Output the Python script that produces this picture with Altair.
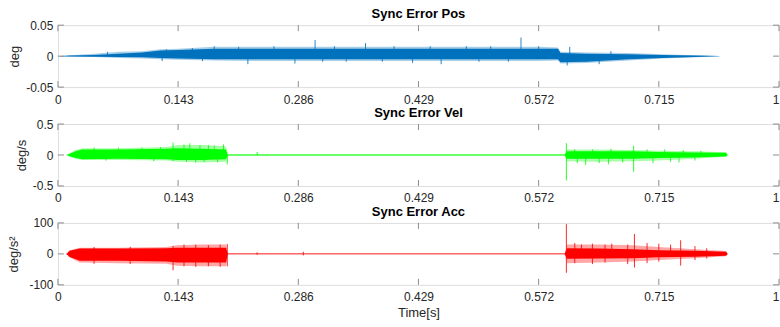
import altair as alt
import pandas as pd

# ---------------- axis ticks ----------------
x_ticks = [0, 0.143, 0.286, 0.429, 0.572, 0.715, 0.858]   # last tick is labelled "1"
pos_ticks = [-0.05, 0, 0.05]
vel_ticks = [-0.5, 0, 0.5]
acc_ticks = [-100, 0, 100]

# ---------------- Sync Error Pos (envelope) ----------------
pos_t = [0.000, 0.014, 0.043, 0.072, 0.100, 0.122, 0.143, 0.186, 0.229, 0.286, 0.358,
         0.429, 0.500, 0.572, 0.595, 0.598, 0.629, 0.679, 0.719, 0.759, 0.787]
pos_core_hi = [0, 0.001, 0.002, 0.004, 0.006, 0.009, 0.010, 0.012, 0.012, 0.012, 0.012,
               0.012, 0.012, 0.012, 0.012, 0.005, 0.004, 0.003, 0.002, 0.001, 0.0002]
pos_core_lo = [0, -0.0005, -0.001, -0.0015, -0.002, -0.003, -0.004, -0.005, -0.005, -0.005, -0.005,
               -0.005, -0.005, -0.005, -0.005, -0.010, -0.009, -0.005, -0.003, -0.0015, -0.0002]
pos_out_hi = [0, 0.0015, 0.004, 0.007, 0.008, 0.011, 0.012, 0.015, 0.015, 0.015, 0.015,
              0.015, 0.015, 0.015, 0.014, 0.007, 0.006, 0.005, 0.003, 0.0015, 0.0003]
pos_out_lo = [0, -0.001, -0.0015, -0.003, -0.004, -0.005, -0.006, -0.007, -0.008, -0.008, -0.008,
              -0.008, -0.008, -0.008, -0.007, -0.012, -0.011, -0.007, -0.004, -0.002, -0.0003]
pos_spk_t = [0.059, 0.129, 0.160, 0.186, 0.215, 0.257, 0.306, 0.329, 0.366, 0.400, 0.443,
             0.486, 0.515, 0.551, 0.572, 0.609, 0.658,
             0.124, 0.172, 0.226, 0.282, 0.315, 0.343, 0.386, 0.422, 0.456, 0.501, 0.536,
             0.606, 0.644]
pos_spk_hi = [0.007, 0.011, 0.013, 0.016, 0.015, 0.016, 0.026, 0.016, 0.021, 0.016, 0.016,
              0.016, 0.016, 0.030, 0.016, 0.015, 0.008,
              0, 0, 0, 0, 0, 0, 0, 0, 0, 0, 0, 0, 0]
pos_spk_lo = [0, 0, 0, 0, 0, 0, 0, 0, 0, 0, 0, 0, 0, 0, 0, 0, 0,
              -0.008, -0.008, -0.013, -0.012, -0.009, -0.009, -0.009, -0.011, -0.013, -0.009,
              -0.009, -0.015, -0.013]

# ---------------- Sync Error Vel ----------------
vel_t = [0.010, 0.014, 0.021, 0.029, 0.072, 0.129, 0.142, 0.172, 0.200, 0.202,
         0.603, 0.606, 0.644, 0.684, 0.715, 0.758, 0.795, 0.797]
vel_core_hi = [0, 0.02, 0.06, 0.09, 0.09, 0.10, 0.11, 0.10, 0.09, 0.008,
               0.008, 0.06, 0.06, 0.06, 0.05, 0.04, 0.035, 0]
vel_core_lo = [0, -0.02, -0.05, -0.07, -0.06, -0.07, -0.08, -0.08, -0.07, -0.008,
               -0.008, -0.06, -0.06, -0.06, -0.05, -0.04, -0.025, 0]
vel_out_hi = [0, 0.03, 0.08, 0.11, 0.11, 0.13, 0.16, 0.16, 0.14, 0.008,
              0.008, 0.09, 0.09, 0.08, 0.07, 0.06, 0.045, 0]
vel_out_lo = [0, -0.03, -0.06, -0.08, -0.08, -0.09, -0.11, -0.12, -0.11, -0.008,
              -0.008, -0.10, -0.11, -0.10, -0.09, -0.06, -0.03, 0]
vel_spk_t = [0.043, 0.072, 0.100, 0.122, 0.137, 0.150, 0.157, 0.169, 0.179, 0.186, 0.197, 0.237,
             0.605, 0.615, 0.636, 0.658, 0.685, 0.701, 0.722, 0.744, 0.765,
             0.057, 0.114, 0.153, 0.164, 0.174, 0.190, 0.2015,
             0.618, 0.628, 0.644, 0.655, 0.672, 0.708, 0.729, 0.739, 0.758]
vel_spk_hi = [0.12, 0.12, 0.12, 0.13, 0.20, 0.17, 0.19, 0.16, 0.16, 0.15, 0.17, 0.05,
              0.19, 0.09, 0.09, 0.10, 0.15, 0.09, 0.09, 0.08, 0.07,
              0, 0, 0, 0, 0, 0, 0,
              0, 0, 0, 0, 0, 0, 0, 0, 0]
vel_spk_lo = [0, 0, 0, 0, -0.10, 0, 0, 0, 0, 0, 0, 0,
              -0.41, 0, 0, 0, -0.27, 0, 0, 0, 0,
              -0.09, -0.10, -0.11, -0.12, -0.11, -0.12, -0.15,
              -0.13, -0.16, -0.13, -0.15, -0.12, -0.13, -0.11, -0.12, -0.09]

# ---------------- Sync Error Acc ----------------
acc_t = [0.010, 0.014, 0.026, 0.072, 0.129, 0.142, 0.172, 0.200, 0.202,
         0.603, 0.606, 0.644, 0.684, 0.715, 0.758, 0.795, 0.797]
acc_core_hi = [0, 10, 17, 17, 18, 20, 20, 20, 1.5, 1.5, 18, 17, 15, 12, 10, 7, 0]
acc_core_lo = [0, -10, -22, -22, -25, -28, -28, -28, -1.5, -1.5, -16, -15, -14, -11, -9, -6, 0]
acc_out_hi = [0, 12, 20, 20, 22, 28, 30, 30, 1.5, 1.5, 30, 30, 28, 22, 15, 9, 0]
acc_out_lo = [0, -12, -28, -30, -32, -38, -40, -40, -1.5, -1.5, -30, -28, -25, -20, -14, -8, 0]
acc_spk_t = [0.043, 0.086, 0.137, 0.150, 0.164, 0.179, 0.193, 0.2015, 0.237, 0.292,
             0.605, 0.615, 0.623, 0.636, 0.651, 0.659, 0.678, 0.686, 0.701, 0.715, 0.729,
             0.741, 0.758, 0.772]
acc_spk_hi = [22, 23, 26, 30, 30, 28, 30, 32, 5, 7,
              96, 35, 30, 33, 30, 33, 30, 64, 35, 33, 30, 44, 25, 18]
acc_spk_lo = [-32, -33, -53, -40, -42, -40, -42, -40, -3, -5,
              -61, -30, 0, -33, -28, 0, -33, -44, -30, -25, 0, -38, -20, -15]

W, H = 722, 62
FONT = "Liberation Sans"
BOX = "#8c8c8c"
TXT = "#262626"


def panel(t, chi, clo, ohi, olo, st, shi, slo, yticks, color, title, ytitle, ytitle_x, last):
    env = pd.DataFrame({"t": t, "chi": chi, "clo": clo, "ohi": ohi, "olo": olo})
    spk = pd.DataFrame({"t": st, "hi": shi, "lo": slo})
    xt = pd.DataFrame({"v": x_ticks})
    yt = pd.DataFrame({"v": yticks})

    xscale = alt.Scale(domain=[0, 0.858], nice=False, zero=False)
    yscale = alt.Scale(domain=[yticks[0], yticks[-1]], nice=False, zero=False)

    xaxis = alt.Axis(values=x_ticks, labelExpr="datum.value > 0.8 ? '1' : '' + datum.value",
                     labelAlign=alt.condition("datum.value > 0.8", alt.value("right"), alt.value("center")),
                     grid=False, ticks=False, tickSize=0, domain=False, labelPadding=7,
                     labelOverlap=False,
                     labelFontSize=12, labelFont=FONT, labelColor=TXT,
                     title="Time[s]" if last else "",
                     titleFontSize=13, titleFont=FONT, titleColor=TXT, titleFontWeight="normal",
                     titlePadding=4)

    yaxis = alt.Axis(values=yticks, labelExpr="'' + datum.value",
                     grid=False, ticks=False,
                     tickSize=0, domain=False, labelPadding=5, labelOverlap=False,
                     labelFontSize=12, labelFont=FONT,
                     labelColor=TXT, title=ytitle, titleFontSize=13, titleFont=FONT,
                     titleColor=TXT, titleFontWeight="normal", titleAngle=270,
                     titleAlign="center", titleBaseline="middle", titleX=ytitle_x, titleY=H / 2)

    def X(f):
        return alt.X(f, scale=xscale, axis=xaxis)

    def Y(f):
        return alt.Y(f, scale=yscale, axis=yaxis)

    outer = alt.Chart(env).mark_area(color=color, opacity=0.35, interpolate="linear").encode(
        x=X("t:Q"), y=Y("ohi:Q"), y2="olo:Q",
    )
    core = alt.Chart(env).mark_area(color=color, opacity=1.0).encode(
        x=X("t:Q"), y=Y("chi:Q"), y2="clo:Q"
    )
    spikes = alt.Chart(spk).mark_rule(color=color, strokeWidth=1, opacity=0.85).encode(
        x=X("t:Q"), y=Y("hi:Q"), y2="lo:Q"
    )
    xt_top = alt.Chart(xt).mark_rule(color=BOX, strokeWidth=1).encode(
        x=X("v:Q"), y=alt.value(0), y2=alt.value(6))
    xt_bot = alt.Chart(xt).mark_rule(color=BOX, strokeWidth=1).encode(
        x=X("v:Q"), y=alt.value(H), y2=alt.value(H - 6))
    yt_l = alt.Chart(yt).mark_rule(color=BOX, strokeWidth=1).encode(
        y=Y("v:Q"), x=alt.value(0), x2=alt.value(6))
    yt_r = alt.Chart(yt).mark_rule(color=BOX, strokeWidth=1).encode(
        y=Y("v:Q"), x=alt.value(W), x2=alt.value(W - 6))

    return alt.layer(outer, core, spikes, xt_top, xt_bot, yt_l, yt_r).properties(
        width=W, height=H,
        title=alt.TitleParams(title, fontSize=13, font=FONT, fontWeight="bold",
                              color="#000000", anchor="middle", offset=0, dy=2),
    )


p1 = panel(pos_t, pos_core_hi, pos_core_lo, pos_out_hi, pos_out_lo,
           pos_spk_t, pos_spk_hi, pos_spk_lo, pos_ticks, "#0072BD",
           "Sync Error Pos", "deg", -43, False)
p2 = panel(vel_t, vel_core_hi, vel_core_lo, vel_out_hi, vel_out_lo,
           vel_spk_t, vel_spk_hi, vel_spk_lo, vel_ticks, "#00FF00",
           "Sync Error Vel", "deg/s", -36, False)
p3 = panel(acc_t, acc_core_hi, acc_core_lo, acc_out_hi, acc_out_lo,
           acc_spk_t, acc_spk_hi, acc_spk_lo, acc_ticks, "#FF0000",
           "Sync Error Acc", "deg/s²", -44, True)

chart = alt.vconcat(p1, p2, p3, spacing=37, bounds="flush").properties(
    padding={"left": 7, "top": 7, "right": 0, "bottom": 2}
).configure_view(stroke=BOX, strokeWidth=1).configure(background="white")

chart.save("out.html", embed_options={"renderer": "svg", "actions": False})
